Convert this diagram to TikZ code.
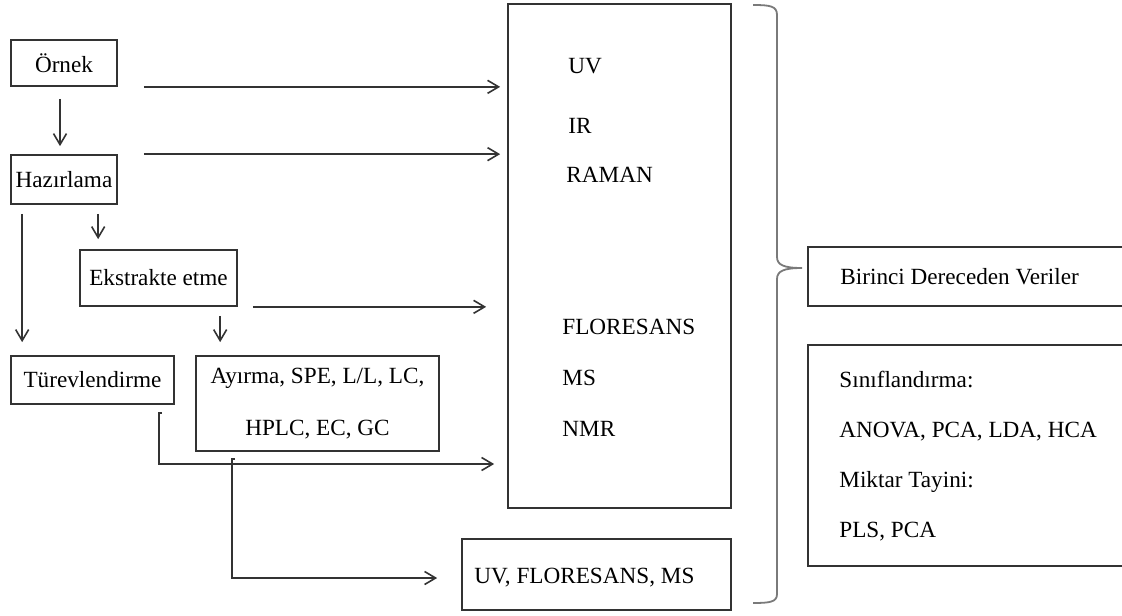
\documentclass[tikz,border=0pt]{standalone}
\usepackage{fontspec}
\setmainfont{Liberation Serif}
\usepackage{tikz}
\usetikzlibrary{arrows.meta}

\definecolor{linegray}{HTML}{333333}
\definecolor{bracegray}{HTML}{7A7A7A}

\begin{document}
\begin{tikzpicture}[x=0.5pt, y=-0.5pt,
    box/.style={draw=linegray, line width=0.85pt, rectangle, inner sep=0pt, font=\fontsize{11.6}{14}\selectfont},
    lbl/.style={inner sep=0pt, anchor=west, font=\fontsize{11.6}{14}\selectfont},
    arr/.style={draw=linegray, line width=0.8pt, -{Straight Barb[length=5.5pt, width=6.5pt]}}]
    \useasboundingbox (0, 0) rectangle (1122, 615);
    \clip (0, 0) rectangle (1122, 615);

    \node[box, minimum width=53pt, minimum height=23pt] at (64, 63) (ornek) {Örnek};
    \node[box, minimum width=53pt, minimum height=24.5pt] at (64, 179.5) (hazir) {Hazırlama};
    \node[box, minimum width=78.5pt, minimum height=28pt] at (158.5, 278) (ekstr) {Ekstrakte etme};
    \node[box, minimum width=81.5pt, minimum height=24pt] at (92.5, 380) (turev) {Türevlendirme};
    \node[box, minimum width=121.5pt, minimum height=47.5pt, align=center] at (317.5, 403.5) (ayirma) {Ayırma, SPE, L/L, LC,\\[12pt] HPLC, EC, GC};

    \node[box, minimum width=111.5pt, minimum height=252pt] at (619.5, 256) (main) {};
    \node[lbl] at (568, 66) (uv) {UV};
    \node[lbl] at (568, 126) (ir) {IR};
    \node[lbl] at (566, 175) (raman) {RAMAN};
    \node[lbl] at (562, 327) (flor) {FLORESANS};
    \node[lbl] at (562, 378) (ms) {MS};
    \node[lbl] at (562, 429) (nmr) {NMR};

    \node[box, minimum width=134.5pt, minimum height=35.5pt] at (596.5, 574.5) (uvbox) {};
    \node[lbl] at (474, 578) (uvtext) {UV, FLORESANS, MS};

    \node[box, minimum width=161pt, minimum height=29.5pt] at (969, 276.5) (birinci) {};
    \node[lbl] at (840, 277) (birincitext) {Birinci Dereceden Veriler};

    \node[box, minimum width=161pt, minimum height=110.5pt] at (969, 455.5) (sinif) {};
    \node[lbl, align=left] at (839, 456) (siniftext) {Sınıflandırma:\\[11pt] ANOVA, PCA, LDA, HCA\\[11pt] Miktar Tayini:\\[11pt] PLS, PCA};

    % left column
    \draw[arr] ([xshift=-2pt, yshift=-6pt]ornek.south) -- ([xshift=-2pt, yshift=4pt]hazir.north);
    \draw[arr] ([xshift=6pt, yshift=-4.5pt]hazir.south west) -- ([xshift=6pt, yshift=6.5pt]turev.north west);
    \draw[arr] ([xshift=9.5pt, yshift=-4.5pt]ekstr.west |- hazir.south) -- ([xshift=9.5pt, yshift=5pt]ekstr.north west);
    \draw[arr] ([xshift=12.5pt, yshift=-4.5pt]ayirma.west |- ekstr.south) -- ([xshift=12.5pt, yshift=6.5pt]ayirma.north west);

    % into the instrument box
    \draw[arr] ([xshift=13pt]ornek.south east) -- ([xshift=-3.5pt]ornek.south -| main.west);
    \draw[arr] ([xshift=13pt]hazir.north east) -- ([xshift=-3.5pt]hazir.north -| main.west);
    \draw[arr] ([xshift=7.5pt]ekstr.south east) -- ([xshift=-10.5pt]ekstr.south -| main.west);
    \draw[arr] ([xshift=-6.5pt, yshift=-4pt]turev.south east) -- ++(-3, 0) |- ([xshift=-6.5pt]main.west |- 0,464);
    \draw[arr] ([xshift=20pt, yshift=-3.5pt]ayirma.south west) -- ++(-3, 0) |- ([xshift=-12pt, yshift=-1.75pt]uvbox.west);

    % brace
    \draw[bracegray, line width=0.9pt] (753, 5) .. controls (770, 5) and (777, 6) .. (777, 15) -- (777, 257)
        .. controls (777, 265) and (784, 268) .. (802, 268)
        .. controls (784, 268) and (777, 271) .. (777, 279) -- (777, 594)
        .. controls (777, 602) and (770, 603) .. (753, 603);
\end{tikzpicture}
\end{document}
